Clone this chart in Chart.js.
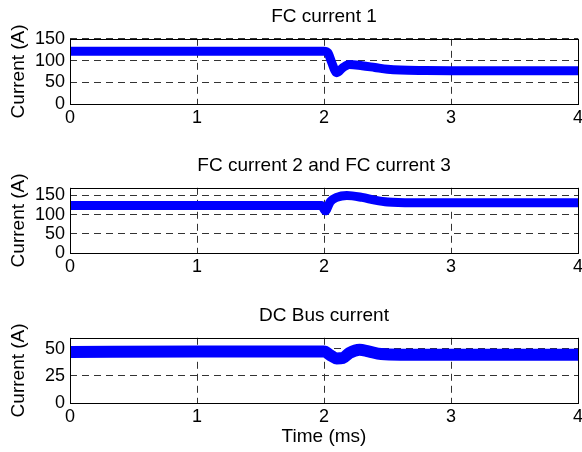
<!DOCTYPE html>
<html>
<head>
<meta charset="utf-8">
<script src="https://cdn.jsdelivr.net/npm/chart.js@4.4.1/dist/chart.umd.min.js"></script>
<style>
  html, body { margin: 0; padding: 0; background: #fff; }
  #wrap { position: relative; width: 582px; height: 452px; overflow: hidden; }
  #wrap canvas { position: absolute; left: 0; }
</style>
</head>
<body>
<div id="wrap">
  <canvas id="fc1" width="582" height="150" style="top:0"></canvas>
  <canvas id="fc23" width="582" height="150" style="top:149px"></canvas>
  <canvas id="dcbus" width="582" height="153" style="top:299px"></canvas>
</div>
<script>
// x axis (ms), shared by all three plots
const timeTicks = [0, 1, 2, 3, 4];

// FC current 1
const fc1Time = [0, 1, 2.0, 2.03, 2.06, 2.1, 2.15, 2.2, 2.3, 2.4, 2.5, 2.6, 2.8, 3, 4];
const fc1Current = [121.5, 121.5, 121.5, 118, 96, 72, 84, 91, 88, 84, 80, 78, 77, 76.5, 76.5];
const fc1Ticks = [0, 50, 100, 150];

// FC current 2 and FC current 3
const fc23Time = [0, 1, 1.98, 2.01, 2.05, 2.1, 2.18, 2.3, 2.4, 2.5, 2.7, 3, 4];
const fc23Current = [124, 124, 124, 110, 134, 145, 150, 145, 138, 133, 131, 131, 131];
const fc23Ticks = [0, 50, 100, 150];

// DC Bus current
const dcTime = [0, 1, 2.0, 2.05, 2.1, 2.15, 2.2, 2.28, 2.35, 2.45, 2.6, 3, 4];
const dcCurrent = [47, 47.5, 47.5, 44, 41, 41.5, 46, 49, 47.5, 45, 44.5, 44.5, 44.5];
const dcTicks = [0, 25, 50];

const FONT = "'Liberation Sans', Arial, Helvetica, sans-serif";

// full black frame round the plot area, like matlab's "box on"
const boxPlugin = {
    id: 'box',
    afterDatasetsDraw(chart) {
        const { ctx, chartArea: a } = chart;
        const l = Math.round(a.left), t = Math.round(a.top);
        const r = Math.round(a.right), b = Math.round(a.bottom);
        ctx.save();
        ctx.strokeStyle = '#000';
        ctx.lineWidth = 1;
        ctx.strokeRect(l + 0.5, t + 0.5, r - l, b - t);
        ctx.restore();
    }
};

function makeChart(id, title, times, values, yTicks, yMax, lineWidth, xHeight, xTitle) {
    const gridStyle = { color: '#333', lineWidth: 1, drawTicks: false };
    const tickFont = { family: FONT, size: 18 };
    return new Chart(document.getElementById(id), {
        type: 'line',
        data: {
            datasets: [{
                data: times.map((t, i) => ({ x: t, y: values[i] })),
                borderColor: '#0000ff',
                borderWidth: lineWidth,
                pointRadius: 0,
                fill: false,
                cubicInterpolationMode: 'monotone',
                clip: 0
            }]
        },
        options: {
            responsive: false, animation: false, events: [],
            layout: { padding: { left: 0, right: 4, top: 0, bottom: 0 } },
            plugins: {
                legend: { display: false },
                tooltip: { enabled: false },
                title: {
                    display: true, text: title, color: '#000', fullSize: false,
                    font: { family: FONT, size: 19, weight: 'normal', lineHeight: 1.2 },
                    padding: { top: 5, bottom: 11 }
                }
            },
            scales: {
                x: {
                    type: 'linear', min: 0, max: 4,
                    afterBuildTicks: s => { s.ticks = timeTicks.map(v => ({ value: v })); },
                    afterFit: s => { s.height = xHeight; s.paddingLeft = 0; s.paddingRight = 0; },
                    grid: gridStyle,
                    border: { display: false, dash: [7, 5] },
                    ticks: { color: '#000', font: tickFont, padding: 3, maxRotation: 0, autoSkip: false },
                    title: {
                        display: !!xTitle, text: xTitle || '', color: '#000',
                        font: { family: FONT, size: 19, lineHeight: 1.2 },
                        padding: { top: 0, bottom: 4 }
                    }
                },
                y: {
                    type: 'linear', min: 0, max: yMax,
                    afterBuildTicks: s => { s.ticks = yTicks.map(v => ({ value: v })); },
                    afterFit: s => { s.width = 70; s.paddingTop = 0; s.paddingBottom = 0; },
                    grid: gridStyle,
                    border: { display: false, dash: [7, 5] },
                    ticks: { color: '#000', font: tickFont, padding: 5, autoSkip: false },
                    title: {
                        display: true, text: 'Current (A)', color: '#000',
                        font: { family: FONT, size: 19, lineHeight: 1.2 },
                        padding: { top: 7, bottom: 0 }
                    }
                }
            }
        },
        plugins: [boxPlugin]
    });
}

makeChart('fc1', 'FC current 1', fc1Time, fc1Current, fc1Ticks, 150, 9, 46);
makeChart('fc23', 'FC current 2 and FC current 3', fc23Time, fc23Current, fc23Ticks, 170, 9, 46);
makeChart('dcbus', 'DC Bus current', dcTime, dcCurrent, dcTicks, 60, 12, 49, 'Time (ms)');
</script>
</body>
</html>
